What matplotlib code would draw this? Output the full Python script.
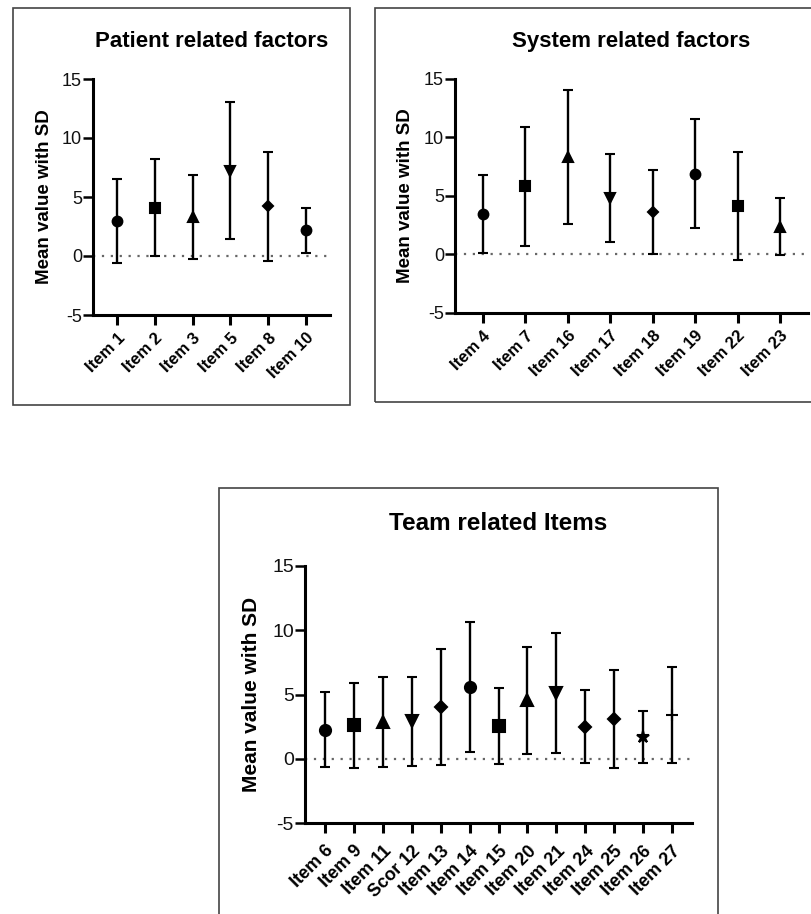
import matplotlib.pyplot as plt
from matplotlib.patches import Rectangle

plt.rcParams['font.family'] = ['Liberation Sans', 'DejaVu Sans']
plt.rcParams['axes.unicode_minus'] = False

# Patient related factors
patient_items = ['Item 1', 'Item 2', 'Item 3', 'Item 5', 'Item 8', 'Item 10']
patient_mean = [2.97, 4.1, 3.3, 7.24, 4.2, 2.17]
patient_sd = [3.58, 4.1, 3.55, 5.77, 4.6, 1.93]
patient_markers = ['o', 's', '^', 'v', 'D', 'o']

# System related factors
system_items = ['Item 4', 'Item 7', 'Item 16', 'Item 17', 'Item 18', 'Item 19', 'Item 22', 'Item 23']
system_mean = [3.46, 5.82, 8.33, 4.8, 3.6, 6.92, 4.12, 2.39]
system_sd = [3.32, 5.11, 5.7, 3.76, 3.6, 4.66, 4.63, 2.47]
system_markers = ['o', 's', '^', 'v', 'D', 'o', 's', '^']

# Team related items
team_items = ['Item 6', 'Item 9', 'Item 11', 'Scor 12', 'Item 13', 'Item 14', 'Item 15',
              'Item 20', 'Item 21', 'Item 24', 'Item 25', 'Item 26', 'Item 27']
team_mean = [2.26, 2.6, 2.85, 2.9, 4.02, 5.6, 2.52, 4.55, 5.1, 2.49, 3.07, 1.68, 3.41]
team_sd = [2.94, 3.3, 3.53, 3.5, 4.5, 5.08, 2.95, 4.17, 4.67, 2.83, 3.8, 2.02, 3.75]
team_markers = ['o', 's', '^', 'v', 'D', 'o', 's', '^', 'v', 'D', 'D', '*', '+']

W, H = 811, 914
fig = plt.figure(figsize=(W / 100, H / 100), dpi=100)


def px_axes(left, top, right, bottom):
    return fig.add_axes([left / W, 1 - bottom / H, (right - left) / W, (bottom - top) / H])


def frame(left, top, right, bottom):
    fig.patches.append(Rectangle((left / W, 1 - bottom / H), (right - left) / W, (bottom - top) / H,
                                 transform=fig.transFigure, fill=False, lw=1.2, ec='#444444'))


def draw_panel(ax, items, means, sds, markers, title, pad, fs_x, fs_y, fs_label,
               fs_title, title_pad, msize, xpad, ylabelpad):
    x = list(range(len(items)))
    ax.axhline(0, color='#666666', ls=(0, (1, 3)), lw=1.6, zorder=1)
    for xi, m, s, mk in zip(x, means, sds, markers):
        ms = msize
        if mk == 'D':
            ms = msize * 0.75
        elif mk == '*':
            ms = msize * 1.1
        ax.errorbar(xi, m, yerr=s, fmt=mk, color='black', ms=ms, mew=1.5,
                    elinewidth=1.7, capsize=3.6, capthick=1.7, zorder=3)
    ax.set_xlim(-pad, len(items) - 1 + pad)
    ax.set_ylim(-5, 15)
    ax.set_yticks([-5, 0, 5, 10, 15])
    ax.set_xticks(x)
    ax.set_xticklabels(items, rotation=45, ha='right', rotation_mode='anchor',
                       fontsize=fs_x, fontweight='bold')
    for lab in ax.get_yticklabels():
        lab.set_fontsize(fs_y)
        lab.set_color('#111111')
    ax.spines['top'].set_visible(False)
    ax.spines['right'].set_visible(False)
    ax.spines['left'].set_linewidth(2.2)
    ax.spines['bottom'].set_linewidth(2.2)
    ax.tick_params(axis='x', width=2.2, length=7, pad=xpad)
    ax.tick_params(axis='y', width=1.8, length=7, pad=1)
    ax.set_ylabel('Mean value with SD', fontsize=fs_label, fontweight='bold', labelpad=ylabelpad)
    ax.set_title(title, fontsize=fs_title, fontweight='bold', pad=title_pad)


frame(13, 8, 350, 405)
frame(375, 8, 815, 402)
frame(219, 488, 718, 918)

ax1 = px_axes(93, 79, 330, 315)
draw_panel(ax1, patient_items, patient_mean, patient_sd, patient_markers,
           'Patient related factors', 0.64, 12, 13, 13.5, 16, 23, 7, 4, 6)

ax2 = px_axes(455, 79, 808, 313)
draw_panel(ax2, system_items, system_mean, system_sd, system_markers,
           'System related factors', 0.66, 12, 13, 13.5, 16, 23, 7, 4, 7)

ax3 = px_axes(305, 566, 692, 823)
draw_panel(ax3, team_items, team_mean, team_sd, team_markers,
           'Team related Items', 0.69, 13, 14, 15, 17.5, 26, 8, 7, 8)

fig.savefig('out.png', dpi=100)
